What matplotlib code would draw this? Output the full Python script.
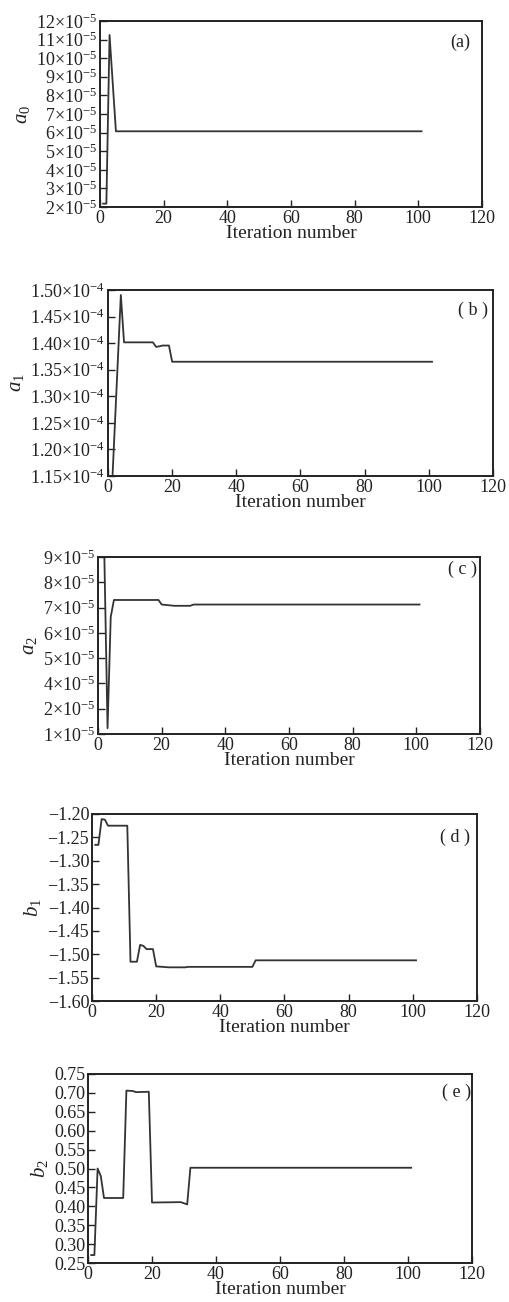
import matplotlib
matplotlib.use('Agg')
import matplotlib.pyplot as plt
from matplotlib.ticker import FixedLocator, FixedFormatter

plt.rcParams['font.family'] = ['Liberation Serif', 'DejaVu Serif']
plt.rcParams['mathtext.fontset'] = 'custom'
plt.rcParams['mathtext.rm'] = 'Liberation Serif'
plt.rcParams['mathtext.it'] = 'Liberation Serif:italic'

# iteration / value breakpoints
a0_iter = [1, 2, 3, 5, 101]
a0_val = [2.18, 2.18, 11.25, 6.07, 6.07]            # x 1e-5

a1_iter = [1, 4, 5, 14, 15, 16, 17, 19, 20, 101]
a1_val = [1.096, 1.4906, 1.4015, 1.4015, 1.393, 1.394, 1.3955, 1.3955, 1.365, 1.365]  # x 1e-4

# panel (c) axis has 8 evenly spaced ticks labelled 9,8,7,6,5,4,2,1;
# values are given in tick-position units (positions 2..9)
a2_iter = [1, 2, 3, 4, 5, 19, 20, 24, 29, 30, 101]
a2_val = [9.3, 9.0, 2.23, 6.63, 7.30, 7.30, 7.12, 7.07, 7.07, 7.12, 7.12]
a2_tick_labels = [1, 2, 4, 5, 6, 7, 8, 9]

b1_iter = [1, 2, 3, 4, 5, 11, 12, 14, 15, 16, 17, 19, 20, 24, 29, 30, 50, 51, 101]
b1_val = [-1.266, -1.266, -1.211, -1.212, -1.225, -1.225, -1.516, -1.516, -1.480,
          -1.482, -1.489, -1.489, -1.526, -1.528, -1.528, -1.527, -1.527, -1.513, -1.513]

b2_iter = [1, 2, 3, 4, 5, 11, 12, 14, 15, 19, 20, 29, 30, 31, 32, 101]
b2_val = [0.271, 0.271, 0.500, 0.480, 0.422, 0.422, 0.706, 0.705, 0.702, 0.703,
          0.410, 0.411, 0.408, 0.405, 0.502, 0.502]

x_ticks = [0, 20, 40, 60, 80, 100, 120]

W, H = 510, 1302
fig = plt.figure(figsize=(W / 100, H / 100), dpi=100)


def make_axes(l, r, t, b):
    return fig.add_axes([l / W, 1 - b / H, (r - l) / W, (b - t) / H])


def style(ax, label, ylab, lx, ly):
    ax.set_xlim(0, 120)
    ax.set_xticks(x_ticks)
    for s in ax.spines.values():
        s.set_linewidth(1.4)
        s.set_color('#222222')
    ax.tick_params(direction='in', length=5, width=1, labelsize=13, pad=2,
                   top=False, right=False, colors='#222222')
    ax.set_xlabel('Iteration number', fontsize=14, labelpad=-1, color='#222222')
    ax.set_ylabel(ylab, fontsize=15, labelpad=3, color='#222222')
    ax.text(lx, ly, label, transform=ax.transAxes, ha='center', va='center',
            fontsize=13, color='#222222')


line_kw = dict(color='#333333', lw=1.3)

# (a)
ax = make_axes(100, 482, 21, 207)
ax.plot(a0_iter, a0_val, **line_kw)
ax.set_ylim(2, 12)
ax.set_yticks(range(2, 13))
ax.set_yticklabels(['%d×10$^{-5}$' % v for v in range(2, 13)])
style(ax, '(a)', '$a_0$', 0.942, 0.887)

# (b)
ax = make_axes(108, 493, 290, 476)
ax.plot(a1_iter, a1_val, **line_kw)
ax.set_ylim(1.15, 1.50)
b_ticks = [1.15, 1.20, 1.25, 1.30, 1.35, 1.40, 1.45, 1.50]
ax.set_yticks(b_ticks)
ax.set_yticklabels(['%.2f×10$^{-4}$' % v for v in b_ticks])
style(ax, '( b )', '$a_1$', 0.948, 0.892)

# (c)
ax = make_axes(98, 480, 557, 734)
ax.plot(a2_iter, a2_val, **line_kw)
ax.set_ylim(2, 9)
ax.yaxis.set_major_locator(FixedLocator(range(2, 10)))
ax.yaxis.set_major_formatter(FixedFormatter(['%d×10$^{-5}$' % v for v in a2_tick_labels]))
style(ax, '( c )', '$a_2$', 0.955, 0.93)

# (d)
ax = make_axes(92, 477, 814, 1001)
ax.plot(b1_iter, b1_val, **line_kw)
ax.set_ylim(-1.60, -1.20)
d_ticks = [-1.60, -1.55, -1.50, -1.45, -1.40, -1.35, -1.30, -1.25, -1.20]
ax.set_yticks(d_ticks)
ax.set_yticklabels(['\u2212%.2f' % abs(v) for v in d_ticks])
style(ax, '( d )', '$b_1$', 0.943, 0.877)

# (e)
ax = make_axes(88, 472, 1074, 1263)
ax.plot(b2_iter, b2_val, **line_kw)
ax.set_ylim(0.25, 0.75)
e_ticks = [0.25, 0.30, 0.35, 0.40, 0.45, 0.50, 0.55, 0.60, 0.65, 0.70, 0.75]
ax.set_yticks(e_ticks)
ax.set_yticklabels(['%.2f' % v for v in e_ticks])
style(ax, '( e )', '$b_2$', 0.961, 0.905)

fig.savefig('out.png', dpi=100, facecolor='white')
